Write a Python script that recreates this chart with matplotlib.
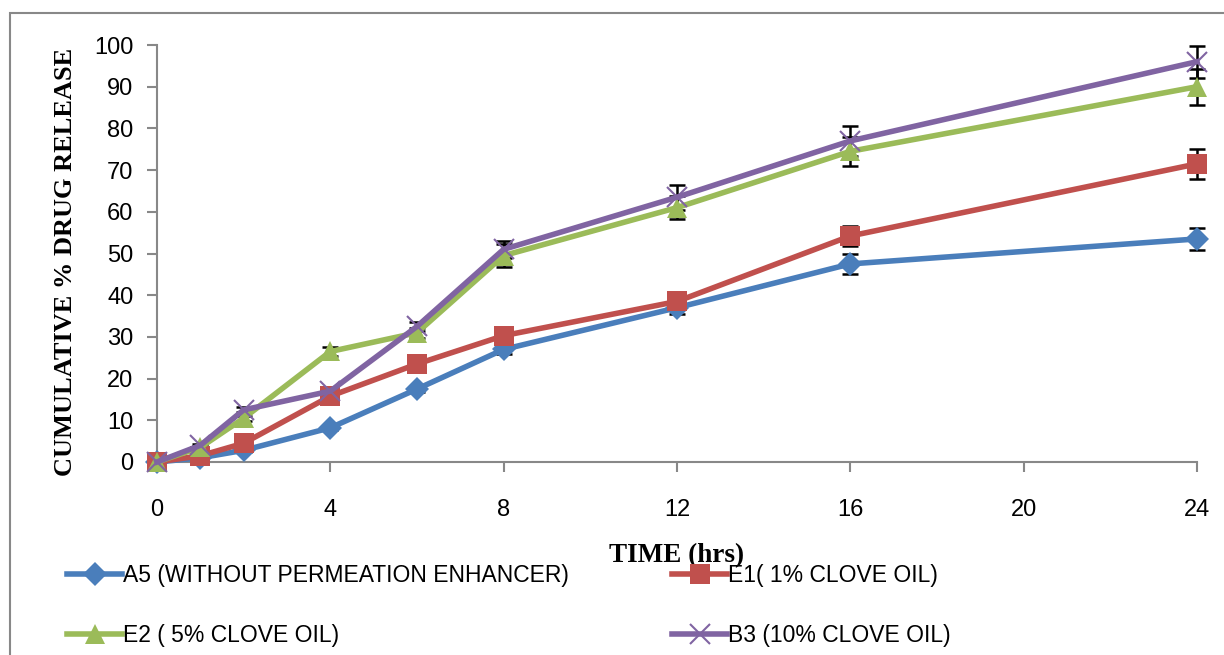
#!/usr/bin/env python3
"""Cumulative drug release profiles with and without clove oil as permeation enhancer"""

import matplotlib.pyplot as plt
from matplotlib.patches import Rectangle

# Sampling times (hrs)
time_hrs = [0, 1, 2, 4, 6, 8, 12, 16, 24]

# Cumulative % drug release (mean) and SD for each formulation
a5_release = [0, 1.0, 2.8, 8.2, 17.5, 27.0, 37.0, 47.5, 53.5]
a5_sd = [0, 0.3, 0.5, 0.6, 0.8, 1.0, 1.5, 2.3, 2.6]

e1_release = [0, 1.5, 4.5, 15.8, 23.5, 30.3, 38.5, 54.2, 71.5]
e1_sd = [0, 0.3, 0.5, 0.7, 0.8, 1.0, 1.2, 2.5, 3.6]

e2_release = [0, 3.5, 10.5, 26.5, 31.0, 49.5, 61.0, 74.5, 90.0]
e2_sd = [0, 0.4, 0.6, 1.0, 1.2, 2.8, 2.7, 3.5, 4.3]

b3_release = [0, 4.0, 12.5, 17.0, 32.5, 51.0, 63.5, 77.0, 96.0]
b3_sd = [0, 0.4, 0.6, 0.7, 1.0, 2.0, 3.0, 3.5, 3.8]

labels = [
    "A5 (WITHOUT PERMEATION ENHANCER)",
    "E1( 1% CLOVE OIL)",
    "E2 ( 5% CLOVE OIL)",
    "B3 (10% CLOVE OIL)",
]

x_ticks = [0, 4, 8, 12, 16, 20, 24]
y_ticks = [0, 10, 20, 30, 40, 50, 60, 70, 80, 90, 100]

# Office 2007 palette
colors = ["#4a7ebb", "#c0504d", "#9bbb59", "#8064a2"]
markers = ["D", "s", "^", "x"]
marker_sizes = [12, 14, 15, 14]

plt.rcParams["font.family"] = ["Liberation Sans", "DejaVu Sans"]

fig = plt.figure(figsize=(12.24, 6.55), dpi=100)
ax = fig.add_axes([157 / 1224, 1 - 462 / 655, 1040 / 1224, 417 / 655])

# Grey frame around the chart area
fig.patches.append(
    Rectangle(
        (10 / 1224, -0.05),
        1.2,
        1 - 13 / 655 + 0.05,
        transform=fig.transFigure,
        fill=False,
        edgecolor="#888888",
        linewidth=1.5,
    )
)

series = [
    (a5_release, a5_sd),
    (e1_release, e1_sd),
    (e2_release, e2_sd),
    (b3_release, b3_sd),
]

handles = []
for (vals, sd), color, marker, ms, label in zip(series, colors, markers, marker_sizes, labels):
    ax.errorbar(
        time_hrs,
        vals,
        yerr=sd,
        fmt="none",
        ecolor="black",
        elinewidth=1.8,
        capsize=6,
        capthick=1.8,
        zorder=2,
    )
    (line,) = ax.plot(
        time_hrs,
        vals,
        color=color,
        linewidth=4,
        marker=marker,
        markersize=ms,
        markeredgewidth=1.5 if marker == "x" else 0,
        markeredgecolor=color,
        label=label,
        zorder=3,
    )
    handles.append(line)

ax.set_xlim(0, 24)
ax.set_ylim(0, 100)
ax.set_xticks(x_ticks)
ax.set_yticks(y_ticks)
ax.tick_params(axis="both", labelsize=17, color="#888888", width=1.5, length=7, direction="out")
ax.tick_params(axis="x", pad=20)
ax.tick_params(axis="y", pad=10)

for side in ["top", "right"]:
    ax.spines[side].set_visible(False)
for side in ["left", "bottom"]:
    ax.spines[side].set_color("#888888")
    ax.spines[side].set_linewidth(1.5)
for artist in ax.get_children():
    artist.set_clip_on(False)

ax.set_ylabel(
    "CUMULATIVE % DRUG RELEASE",
    fontsize=19,
    fontweight="bold",
    family=["Liberation Serif", "DejaVu Serif"],
)
ax.yaxis.set_label_coords(-80 / 1040, 0.48)

fig.text(
    677 / 1224,
    1 - 556 / 655,
    "TIME (hrs)",
    ha="center",
    va="center",
    fontsize=19.5,
    fontweight="bold",
    family=["Liberation Serif", "DejaVu Serif"],
    zorder=1,
)

# Legend entries are filled column by column, so order them to read row-wise
legend_order = [0, 2, 1, 3]
fig.legend(
    handles=[handles[i] for i in legend_order],
    labels=[labels[i] for i in legend_order],
    loc="upper left",
    bbox_to_anchor=(58 / 1224, 1 - 555 / 655),
    ncol=2,
    frameon=False,
    fontsize=16.5,
    handlelength=2.4,
    handletextpad=0.05,
    columnspacing=4.5,
    labelspacing=1.6,
    borderaxespad=0,
)

plt.savefig("out.png", dpi=100, facecolor="white")
